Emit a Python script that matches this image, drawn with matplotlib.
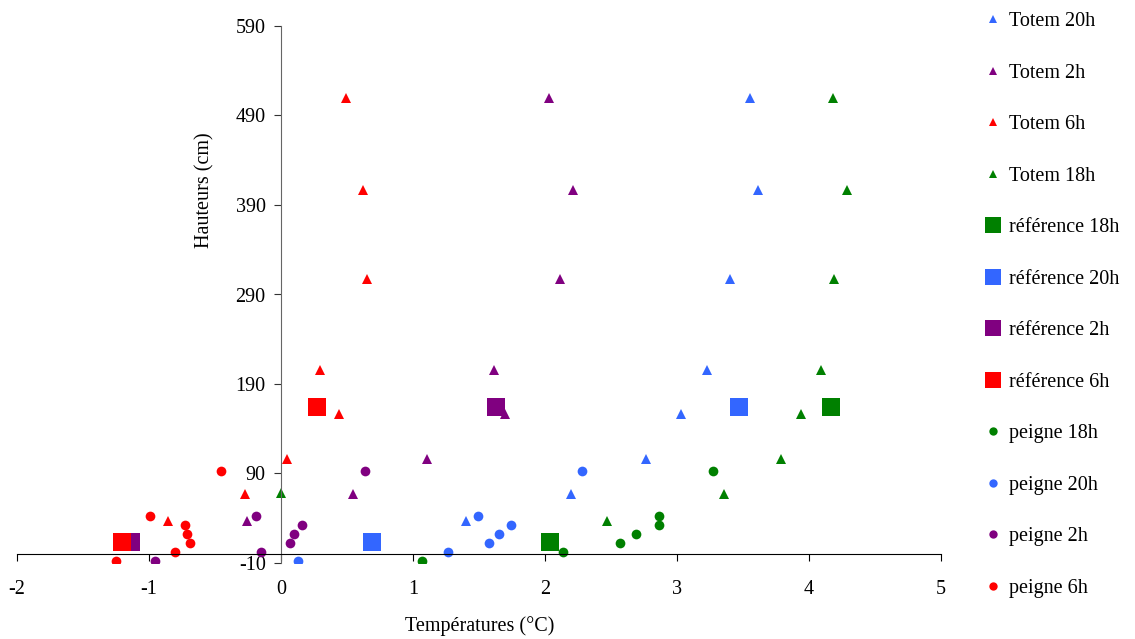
import numpy as np
import matplotlib
matplotlib.use("Agg")
import matplotlib.pyplot as plt
from matplotlib.lines import Line2D

plt.rcParams['font.family'] = ['Liberation Serif', 'DejaVu Serif']
plt.rcParams['axes.unicode_minus'] = False

# hauteurs (cm)
h_totem = [37, 67, 106, 156, 206, 307, 407, 510]
h_ref = [14, 164]
h_peigne = [-7.5, 2.3, 12.3, 22.5, 32.5, 42.5, 92.6]

# temperatures (°C)
totem_20h = [1.40, 2.20, 2.766, 3.034, 3.225, 3.40, 3.614, 3.556]
totem_2h = [-0.26, 0.545, 1.105, 1.695, 1.612, 2.11, 2.212, 2.033]
totem_6h = [-0.855, -0.276, 0.043, 0.436, 0.299, 0.651, 0.62, 0.489]
totem_18h = [2.472, 3.357, 3.79, 3.942, 4.088, 4.19, 4.288, 4.182]
# point isolé du totem 18h
totem_18h_x0 = [0.0]
totem_18h_y0 = [68]

ref_18h = [2.035, 4.168]
ref_20h = [0.69, 3.47]
ref_2h = [-1.14, 1.63]
ref_6h = [-1.205, 0.27]

peigne_18h = [1.07, 2.14, 2.57, 2.69, 2.86, 2.86, 3.273]
peigne_20h = [0.126, 1.262, 1.572, 1.654, 1.746, 1.49, 2.282]
peigne_2h = [-0.951, -0.151, 0.071, 0.101, 0.156, -0.187, 0.638]
peigne_6h = [-1.248, -0.80, -0.689, -0.711, -0.726, -0.989, -0.454]

bleu = '#3366FF'
violet = '#800080'
rouge = '#FF0000'
vert = '#008000'

xticks = [-2, -1, 0, 1, 2, 3, 4, 5]
yticks = [-10, 90, 190, 290, 390, 490, 590]

fig = plt.figure(figsize=(11.35, 6.39), dpi=100)
ax = fig.add_axes([17/1135, 76/639, 924/1135, 537/639])

ms_t, ms_s, ms_o = 7.5, 13, 7
ax.plot(totem_20h, h_totem, '^', color=bleu, ms=ms_t, mew=0)
ax.plot(totem_2h, h_totem, '^', color=violet, ms=ms_t, mew=0)
ax.plot(totem_6h, h_totem, '^', color=rouge, ms=ms_t, mew=0)
ax.plot(totem_18h, h_totem, '^', color=vert, ms=ms_t, mew=0)
ax.plot(totem_18h_x0, totem_18h_y0, '^', color=vert, ms=ms_t, mew=0)
ax.plot(ref_18h, h_ref, 's', color=vert, ms=ms_s, mew=0)
ax.plot(ref_20h, h_ref, 's', color=bleu, ms=ms_s, mew=0)
ax.plot(ref_2h, h_ref, 's', color=violet, ms=ms_s, mew=0)
ax.plot(ref_6h, h_ref, 's', color=rouge, ms=ms_s, mew=0)
ax.plot(peigne_18h, h_peigne, 'o', color=vert, ms=ms_o, mew=0)
ax.plot(peigne_20h, h_peigne, 'o', color=bleu, ms=ms_o, mew=0)
ax.plot(peigne_2h, h_peigne, 'o', color=violet, ms=ms_o, mew=0)
ax.plot(peigne_6h, h_peigne, 'o', color=rouge, ms=ms_o, mew=0)

ax.set_xlim(-2, 5)
ax.set_ylim(-10, 590)
ax.set_xticks(xticks)
ax.set_yticks(yticks)
ax.spines['top'].set_visible(False)
ax.spines['right'].set_visible(False)
ax.spines['left'].set_position(('data', 0))
ax.spines['bottom'].set_position(('data', 0))
ax.spines['left'].set_color('#666666')
ax.tick_params(axis='x', direction='out', length=5, pad=14, labelsize=14.5)
ax.tick_params(axis='y', direction='out', length=5, pad=6, labelsize=14.5, color='#333333')
ax.patch.set_visible(False)

fig.text(480/1135, 1 - 626/639, 'Températures (°C)', ha='center', va='center', fontsize=14.5)
fig.text(205/1135, 1 - 190/639, 'Hauteurs (cm)', ha='center', va='center', rotation=90, fontsize=14.5)

labels = ['Totem 20h', 'Totem 2h', 'Totem 6h', 'Totem 18h',
          'référence 18h', 'référence 20h', 'référence 2h', 'référence 6h',
          'peigne 18h', 'peigne 20h', 'peigne 2h', 'peigne 6h']
couleurs = [bleu, violet, rouge, vert, vert, bleu, violet, rouge, vert, bleu, violet, rouge]
formes = ['^'] * 4 + ['s'] * 4 + ['o'] * 4
tailles = {'^': 6, 's': 11, 'o': 6}
handles = [Line2D([], [], ls='none', marker=m, color=c, ms=tailles[m], mew=0)
           for m, c in zip(formes, couleurs)]
fig.legend(handles, labels, loc='upper left', bbox_to_anchor=(975/1135, 1 - 4/639),
           frameon=False, fontsize=14.5, labelspacing=1.61, handlelength=1.0,
           handletextpad=0.3, borderaxespad=0)

fig.savefig('out.png', dpi=100)
